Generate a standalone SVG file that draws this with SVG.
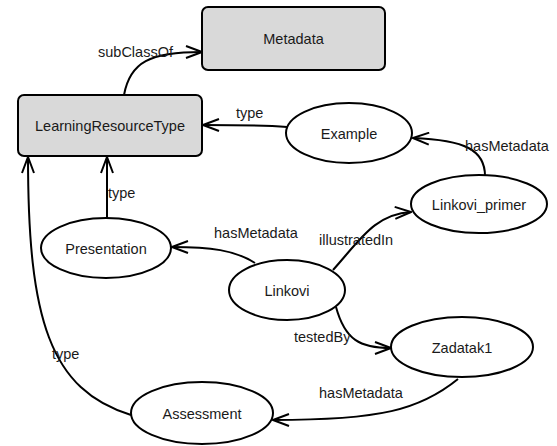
<svg xmlns="http://www.w3.org/2000/svg" width="557" height="446" viewBox="0 0 557 446">
  <style>
    .cls { fill: #d9d9d9; stroke: #000; stroke-width: 2; }
    .ind { fill: #fff; stroke: #000; stroke-width: 2; }
    .edge { fill: none; stroke: #000; stroke-width: 2; marker-end: url(#open); }
    text { font-family: "Liberation Sans", Arial, sans-serif; font-size: 14.5px; fill: #1a1a1a; }
    .lbl { text-anchor: middle; }
  </style>
  <defs>
    <marker id="open" viewBox="0 0 18 14" refX="17" refY="7" markerWidth="18" markerHeight="14" markerUnits="userSpaceOnUse" orient="auto">
      <path d="M1,1 L17,7 L1,13" fill="none" stroke="#000" stroke-width="2"/>
    </marker>
  </defs>
  <rect width="557" height="446" fill="#fff"/>

  <g id="connectors">
    <path class="edge" d="M124,95 C130,62 150,52 202,52"/>
    <text x="98" y="57">subClassOf</text>
    <path class="edge" d="M287,127 C260,125 240,125 203,125"/>
    <text x="236" y="118">type</text>
    <path class="edge" d="M485,176 C485,150 465,140 413,138"/>
    <text x="465" y="151">hasMetadata</text>
    <path class="edge" d="M107,218 L107,157"/>
    <text x="108" y="198">type</text>
    <path class="edge" d="M131,415 C50,390 28,320 28,157"/>
    <text x="52" y="359">type</text>
    <path class="edge" d="M255,263 C235,250 210,247 172,247"/>
    <text x="214" y="238">hasMetadata</text>
    <path class="edge" d="M333,270 C360,240 375,214 411,212"/>
    <text x="319" y="245">illustratedIn</text>
    <path class="edge" d="M336,307 C345,340 360,348 391,348"/>
    <text x="294" y="342">testedBy</text>
    <path class="edge" d="M458,379 C420,410 380,420 273,420"/>
    <text x="319" y="398">hasMetadata</text>
  </g>

  <g id="Metadata">
    <rect class="cls" x="202" y="7" width="183" height="63" rx="6"/>
    <text class="lbl" x="293.5" y="44">Metadata</text>
  </g>
  <g id="LearningResourceType">
    <rect class="cls" x="18" y="95" width="184" height="61" rx="6"/>
    <text class="lbl" x="110" y="131">LearningResourceType</text>
  </g>
  <g id="Example">
    <ellipse class="ind" cx="349" cy="133" rx="63" ry="30"/>
    <text class="lbl" x="349" y="139">Example</text>
  </g>
  <g id="Linkovi_primer">
    <ellipse class="ind" cx="479" cy="204" rx="68" ry="29"/>
    <text class="lbl" x="479" y="210">Linkovi_primer</text>
  </g>
  <g id="Presentation">
    <ellipse class="ind" cx="106" cy="248" rx="65" ry="30"/>
    <text class="lbl" x="106" y="254">Presentation</text>
  </g>
  <g id="Linkovi">
    <ellipse class="ind" cx="287" cy="290" rx="58" ry="30"/>
    <text class="lbl" x="287" y="296">Linkovi</text>
  </g>
  <g id="Zadatak1">
    <ellipse class="ind" cx="462" cy="347" rx="71" ry="30"/>
    <text class="lbl" x="462" y="353">Zadatak1</text>
  </g>
  <g id="Assessment">
    <ellipse class="ind" cx="202" cy="413" rx="71" ry="31"/>
    <text class="lbl" x="202" y="419">Assessment</text>
  </g>
</svg>
